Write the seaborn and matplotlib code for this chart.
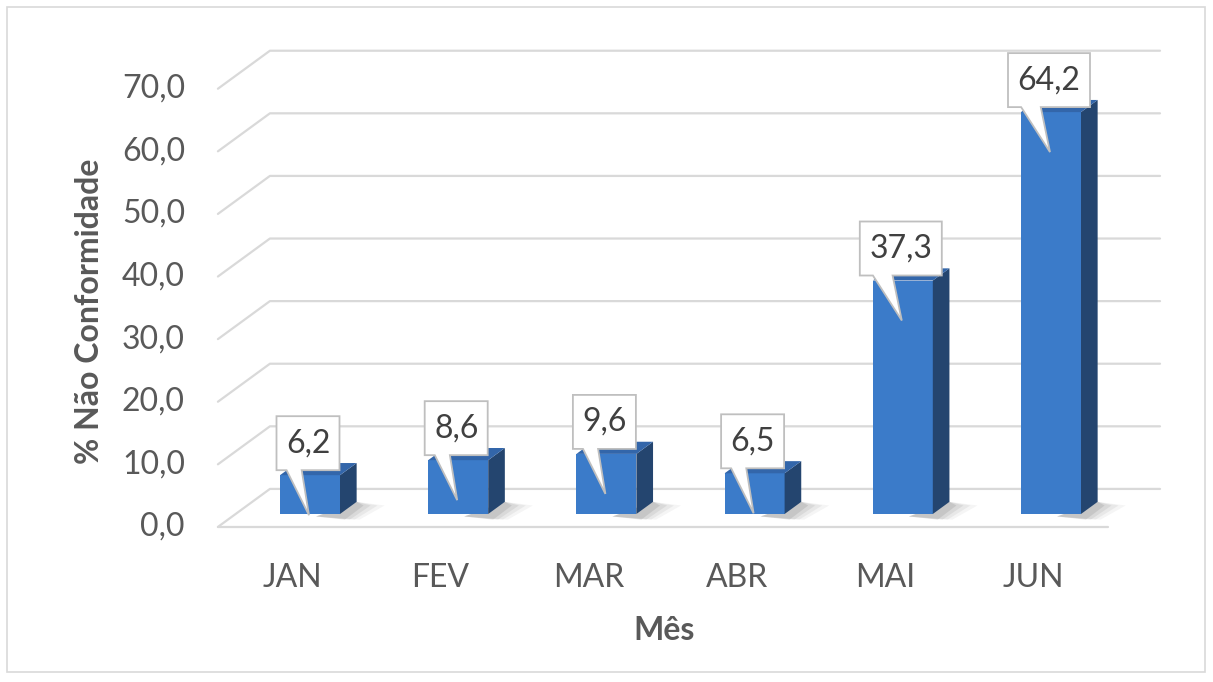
import matplotlib
matplotlib.use("Agg")
import matplotlib.pyplot as plt
from matplotlib.patches import Polygon, Rectangle
import seaborn as sns

# data
months = ["JAN", "FEV", "MAR", "ABR", "MAI", "JUN"]
values = [6.2, 8.6, 9.6, 6.5, 37.3, 64.2]
yticks = [0, 10, 20, 30, 40, 50, 60, 70]

sns.set_style("white")
plt.rcParams["font.family"] = ["Lato", "DejaVu Sans"]

# pseudo-3D geometry (px per data unit, depth of the floor box)
PX_X, PX_Y = 148.2, 6.26
DEPTH_X, DEPTH_Y = 52 / PX_X, 38 / PX_Y
D0, D1 = 0.34, 0.66          # bar front / back depth
X_LEFT, X_RIGHT = -0.502, 5.504
GRID = "#D9D9D9"
TXT = "#595959"


def proj(x, v, d):
    return x + (d - D0) * DEPTH_X, v + (d - D0) * DEPTH_Y


def fmt(v):
    return f"{v:.1f}".replace(".", ",")


fig = plt.figure(figsize=(12.13, 6.82), dpi=100)
ax = fig.add_axes([0, 0, 1, 1])

df = {"mes": months, "val": values}
sns.barplot(x="mes", y="val", data=df, color="#3B7BC9", saturation=1,
            width=60 / PX_X, ax=ax, zorder=3, linewidth=0)

ax.set_xlim(-310 / PX_X, (1213 - 310) / PX_X)
ax.set_ylim((514 - 682) / PX_Y, 514 / PX_Y)
ax.axis("off")

# walls / gridlines
for t in yticks:
    pts = [proj(X_LEFT, t, 0), proj(X_LEFT, t, 1), proj(X_RIGHT, t, 1)]
    ax.plot([p[0] for p in pts], [p[1] for p in pts], color=GRID, lw=1.6, zorder=1)
    tx, ty = proj(X_LEFT, t, 0)
    ax.text(tx - 33 / PX_X, ty, fmt(t), ha="right", va="center",
            fontsize=23, color=TXT)
floor = [proj(X_LEFT, 0, 0), proj(X_RIGHT, 0, 0)]
ax.plot([p[0] for p in floor], [p[1] for p in floor], color=GRID, lw=1.6, zorder=1)

# 3D faces, shadows and callouts
ddx, ddy = (D1 - D0) * DEPTH_X, (D1 - D0) * DEPTH_Y
for i, bar in enumerate(ax.patches[:len(values)]):
    x, w, h = bar.get_x(), bar.get_width(), bar.get_height()
    # soft shadow on floor, darker close to the bar
    for k, a in enumerate([0.06, 0.08, 0.10, 0.14]):
        s = (4 - k) * 7 / PX_X
        sh = [(x + w * 0.6, -0.4), (x + w + ddx, ddy),
              (x + w + ddx + s, ddy * 0.7), (x + w + s * 0.7, -0.9)]
        ax.add_patch(Polygon(sh, closed=True, fc="#595959", ec="none",
                             alpha=a, zorder=2))
    side = [(x + w, 0), (x + w + ddx, ddy), (x + w + ddx, h + ddy), (x + w, h)]
    top = [(x, h), (x + w, h), (x + w + ddx, h + ddy), (x + ddx, h + ddy)]
    ax.add_patch(Polygon(side, closed=True, fc="#24456F", ec="none", zorder=3))
    ax.add_patch(Polygon(top, closed=True, fc="#3366AA", ec="none", zorder=3))

    # callout label
    lab = fmt(values[i])
    cx = x + w / 2
    bw = 19 * len(lab) + 6
    L, R = -2 - bw / 2, -2 + bw / 2
    B, T = 5, 59
    pts_px = [(L, T), (R, T), (R, B), (L + 0.4 * bw, B), (-1, -40),
              (L + 0.16 * bw, B), (L, B)]
    pts = [(cx + px / PX_X, h + py / PX_Y) for px, py in pts_px]
    ax.add_patch(Polygon(pts, closed=True, fc="white", ec="#BFBFBF",
                         lw=1.3, zorder=5, joinstyle="miter"))
    ax.text(cx - 2 / PX_X, h + 32 / PX_Y, lab, ha="center", va="center",
            fontsize=23, color="#404040", zorder=6)

# category labels
for i, m in enumerate(months):
    lx, _ = proj(i, 0, 0)
    ax.text(lx, (514 - 578) / PX_Y, m, ha="center", va="center",
            fontsize=23, color=TXT)

# axis titles
ax.text((90 - 310) / PX_X, (514 - 311) / PX_Y, "% Não Conformidade",
        rotation=90, ha="center", va="center", fontsize=23,
        fontweight="bold", color=TXT)
ax.text((664 - 310) / PX_X, (514 - 630) / PX_Y, "Mês", ha="center",
        va="center", fontsize=23, fontweight="bold", color=TXT)

# chart border
fig.patches.append(Rectangle((7 / 1213, 10 / 682), 1198 / 1213, 665 / 682,
                             transform=fig.transFigure, fill=False,
                             ec=GRID, lw=1.2))

fig.savefig("out.png", dpi=100)
